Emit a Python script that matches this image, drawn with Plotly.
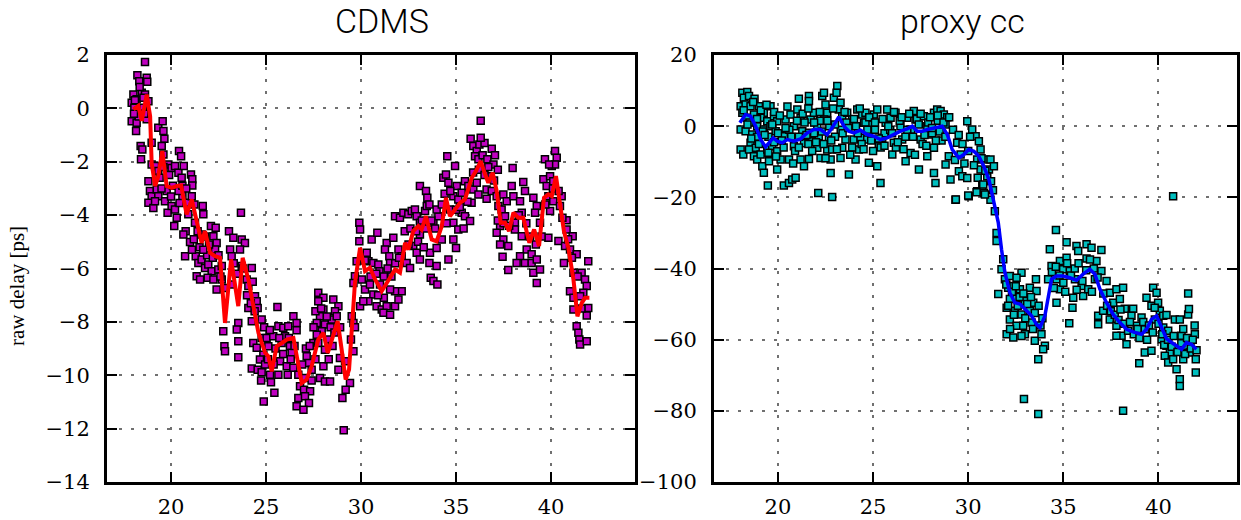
import plotly.graph_objects as go

# ---------------- data ----------------
cdms_points = [
    (18.63,1.74),(18.23,1.24),(18.33,1.02),(18.72,1.15),(18.75,1.0),(18.02,0.52),(18.19,0.34),(18.46,0.59),
    (18.63,0.52),(18.81,0.27),(17.93,0.21),(18.07,0.02),(18.28,-0.1),(18.54,0.02),(17.93,-0.48),(18.19,-0.54),
    (18.16,-0.85),(18.72,-0.41),(18.4,-1.41),(18.49,-1.54),(18.42,-1.91),(18.98,-1.29),(19.33,-0.73),(19.56,-0.48),
    (19.6,-0.85),(19.65,-1.14),(19.51,-1.41),(19.6,-1.73),(20.42,-1.6),(20.53,-1.79),(18.98,-2.1),(19.16,-2.16),
    (19.33,-2.35),(19.86,-2.1),(20.03,-2.23),(20.21,-2.16),(20.39,-2.41),(20.67,-2.16),(20.56,-2.6),(21.05,-2.48),
    (21.12,-2.66),(21.12,-2.89),(18.81,-2.73),(18.89,-3.1),(18.98,-3.29),(18.81,-3.54),(19.07,-3.73),(19.25,-3.04),
    (19.33,-3.29),(19.16,-3.48),(19.77,-3.1),(19.68,-3.48),(19.82,-3.91),(20.03,-3.66),(20.21,-3.79),(20.3,-4.1),
    (20.17,-4.41),(20.6,-3.29),(20.88,-3.54),(21.09,-3.29),(21.23,-3.6),(21.67,-3.66),(21.7,-3.97),(23.68,-3.91),
    (20.91,-3.97),(20.77,-4.6),(20.65,-4.73),(21.0,-5.01),(21.26,-4.29),(21.4,-4.6),(21.61,-4.73),(22.1,-4.41),
    (22.35,-4.47),(22.23,-4.79),(22.4,-5.04),(22.32,-5.29),(20.74,-5.54),(21.3,-5.54),(21.44,-5.79),(21.61,-5.66),
    (21.79,-5.98),(21.96,-5.85),(22.14,-6.1),(21.35,-6.29),(21.53,-6.41),(21.93,-6.35),(22.23,-6.41),(22.49,-6.04),
    (22.67,-5.91),(23.05,-4.6),(23.28,-4.85),(23.11,-5.29),(23.19,-5.54),(23.72,-4.91),(23.89,-5.04),(23.63,-5.29),
    (23.72,-5.91),(24.25,-5.98),(22.67,-6.41),(22.81,-6.73),(22.4,-6.79),(23.19,-6.6),(23.98,-6.41),(24.07,-6.66),
    (24.42,-7.04),(24.51,-7.23),(24.56,-7.48),(24.07,-7.48),(25.6,-7.44),(22.75,-8.35),(22.81,-8.91),(22.84,-9.1),
    (23.54,-8.04),(23.46,-8.29),(23.54,-8.73),(23.54,-9.33),(24.25,-7.98),(24.77,-7.91),(24.33,-8.79),(24.51,-8.97),
    (24.77,-8.6),(25.03,-8.6),(25.12,-8.91),(24.86,-9.23),(24.68,-9.41),(24.25,-9.75),(24.56,-9.79),(24.77,-9.89),
    (24.95,-9.6),(25.21,-9.98),(24.74,-10.2),(25.26,-10.26),(25.44,-10.66),(24.88,-10.98),(25.38,-8.54),(25.65,-8.16),
    (25.91,-8.22),(26.17,-8.16),(26.44,-7.79),(26.61,-8.04),(26.61,-8.31),(26.0,-8.54),(25.82,-8.79),(26.26,-8.91),
    (26.35,-9.16),(25.74,-9.48),(26.09,-9.66),(25.65,-9.98),(26.14,-9.98),(26.44,-9.72),(26.7,-9.98),(27.14,-9.29),
    (27.23,-9.54),(27.4,-9.79),(27.05,-10.1),(26.79,-10.41),(27.0,-10.54),(27.32,-10.6),(26.7,-10.85),(27.05,-10.79),
    (27.26,-11.04),(26.61,-11.16),(26.97,-11.29),(27.75,-6.91),(28.02,-7.1),(27.75,-7.23),(28.02,-7.54),(27.84,-7.79),
    (27.67,-8.04),(28.1,-8.1),(27.93,-8.35),(27.67,-8.48),(27.49,-8.79),(27.75,-8.79),(28.54,-7.16),(28.81,-7.41),
    (28.63,-7.6),(28.46,-7.91),(28.72,-7.79),(28.28,-8.66),(28.1,-9.04),(28.02,-9.66),(27.84,-10.1),(28.1,-10.23),
    (28.37,-10.23),(28.81,-9.79),(28.89,-9.35),(29.16,-9.48),(29.42,-10.29),(29.19,-10.54),(29.02,-10.85),(29.09,-12.06),
    (29.51,-7.79),(29.6,-8.04),(29.47,-8.66),(29.6,-9.1),(29.95,-7.41),(29.68,-8.2),
    (29.91,-4.29),(29.95,-4.54),(29.91,-4.98),(30.56,-4.91),(30.86,-4.66),(29.77,-5.73),(29.68,-6.29),(29.6,-6.54),
    (30.04,-6.41),(30.3,-5.41),(30.39,-5.73),(30.65,-5.79),(30.91,-5.85),(30.97,-6.1),(30.21,-6.79),(30.47,-6.6),
    (30.65,-6.97),(30.39,-7.23),(30.12,-7.23),(30.82,-7.41),(31.09,-7.54),(31.35,-7.41),(31.18,-7.66),(31.53,-7.73),
    (31.79,-7.41),(31.97,-7.16),(32.14,-6.85),(31.79,-6.85),(31.53,-6.79),(31.35,-5.04),(31.26,-5.29),(31.49,-5.54),
    (31.7,-4.85),(31.53,-5.79),(31.79,-4.04),(32.05,-4.1),(32.23,-3.91),(31.97,-5.29),(32.14,-5.54),(32.4,-5.79),
    (32.58,-5.98),(32.49,-3.97),(32.67,-3.85),(32.84,-3.79),(32.93,-4.04),(33.1,-4.29),(33.37,-3.85),(33.46,-3.66),
    (33.1,-2.91),(33.42,-3.1),(33.49,-3.35),(33.6,-3.6),(33.1,-4.73),(32.75,-5.16),(32.93,-5.41),(33.1,-5.66),
    (33.6,-5.79),(33.98,-5.91),(33.67,-6.35),(33.81,-6.47),(34.02,-6.6),(33.63,-5.41),(33.98,-5.23),(34.25,-4.91),
    (33.81,-4.29),(34.07,-4.04),(33.98,-3.79),(34.25,-3.6),(34.33,-2.6),(34.47,-2.48),(34.6,-2.79),(34.54,-1.79),
    (34.95,-2.16),(35.04,-2.91),(34.86,-3.29),(35.12,-3.41),(34.68,-3.79),(34.86,-4.29),(35.12,-4.54),(34.86,-4.91),
    (35.0,-5.23),(34.6,-5.66),(35.3,-3.91),(35.47,-4.04),(35.74,-4.22),(35.3,-3.16),(35.47,-2.73),(35.65,-2.91),
    (35.82,-3.54),(35.91,-3.04),(36.09,-2.79),(36.18,-3.23),(35.77,-1.14),(35.91,-1.41),(36.09,-1.6),(36.23,-1.35),
    (36.0,-1.79),(36.18,-1.91),(36.3,-0.46),(36.4,-1.76),(36.65,-1.91),(36.88,-1.51),(37.05,-1.76),(36.97,-2.1),
    (36.79,-2.54),(36.61,-3.04),(36.88,-3.1),(36.61,-3.39),(37.14,-3.29),(37.49,-3.23),(37.23,-3.66),(37.67,-3.48),
    (37.4,-3.79),(37.58,-4.04),(37.98,-2.23),(37.93,-2.91),(38.02,-3.29),(38.37,-3.48),(38.54,-2.76),(38.63,-3.1),
    (38.46,-3.91),(38.1,-4.29),(37.32,-4.41),(37.14,-4.66),(37.49,-4.91),(37.32,-5.1),(37.75,-5.16),(37.45,-5.56),
    (38.1,-4.54),(38.46,-4.79),(38.72,-5.29),(38.37,-5.54),(38.63,-5.79),(38.98,-5.47),(38.98,-5.79),(39.25,-5.66),
    (37.75,-6.06),(38.19,-5.79),(39.07,-6.16),(39.42,-6.04),(39.25,-6.54),(39.07,-3.35),(39.25,-3.66),(39.16,-3.91),
    (39.42,-4.29),(39.6,-2.66),(39.77,-2.91),(39.68,-1.91),(40.04,-2.16),(40.21,-1.6),(40.3,-1.85),(40.21,-2.1),
    (39.95,-2.54),(40.12,-2.73),(39.86,-3.29),(40.12,-3.48),(40.56,-3.29),(40.47,-3.66),(39.95,-3.85),(39.86,-4.85),
    (40.39,-4.97),(40.82,-4.19),(40.82,-4.54),(41.14,-4.79),(40.74,-5.16),(41.0,-5.29),(41.35,-5.47),(40.68,-5.79),
    (41.18,-6.16),(41.61,-6.16),(41.96,-5.73),(41.0,-6.85),(41.18,-7.1),(41.79,-6.41),(41.88,-6.66),(41.7,-6.91),
    (41.53,-7.04),(41.18,-7.54),(41.96,-7.48),(41.88,-7.76),(41.35,-8.16),(41.44,-8.41),(41.49,-8.66),(41.53,-8.85),
    (41.88,-8.73),
    # denser parts of the cloud
    (18.1,0.3),(18.35,0.8),(18.55,0.4),(18.3,-0.3),(18.6,-0.2),(18.05,-0.2),
    (19.4,-2.6),(19.5,-3.0),(19.9,-2.5),(20.1,-2.9),(20.4,-3.1),(20.6,-2.9),(20.8,-3.0),(19.6,-2.2),(20.0,-3.3),(20.45,-3.55),
    (21.2,-4.9),(21.5,-5.2),(21.8,-4.8),(22.0,-5.1),(21.9,-5.5),(22.2,-5.6),(21.7,-5.3),(22.5,-5.5),(21.1,-5.3),(22.6,-6.3),
    (23.3,-5.8),(23.5,-6.2),(23.8,-6.0),(24.0,-7.0),(24.2,-7.3),(24.4,-7.6),(24.3,-6.5),
    (24.9,-8.2),(25.2,-8.3),(25.5,-9.0),(25.7,-8.6),(25.9,-9.2),(26.2,-8.6),(26.5,-8.9),(25.1,-9.4),(25.4,-9.6),(26.3,-9.4),
    (26.9,-9.6),(27.1,-9.0),(27.3,-8.9),(27.5,-8.2),(27.6,-7.6),(27.9,-7.5),(28.2,-7.8),(28.4,-8.2),(28.6,-8.4),(28.9,-8.2),
    (28.3,-9.4),(28.5,-8.9),(27.4,-10.2),(27.6,-9.4),
    (30.2,-5.7),(30.5,-6.3),(30.8,-6.2),(31.0,-6.6),(31.2,-6.3),(31.4,-6.0),(31.6,-6.3),(31.8,-5.8),(32.0,-5.6),(31.2,-7.1),(30.9,-7.0),
    (32.3,-4.6),(32.6,-4.5),(32.9,-4.6),(33.2,-4.2),(33.4,-4.5),(33.7,-4.2),(32.5,-5.1),(33.0,-5.0),(33.3,-5.2),(33.9,-4.5),
    (34.4,-3.2),(34.7,-3.1),(35.0,-3.8),(35.2,-3.7),(35.6,-3.5),(35.9,-2.4),(35.4,-4.5),(34.5,-4.3),
    (36.2,-2.3),(36.5,-2.5),(36.7,-2.2),(37.0,-2.7),(37.2,-2.3),(36.5,-1.3),(36.3,-1.1),(37.5,-4.3),(37.8,-4.4),(37.2,-4.2),
    (38.3,-4.0),(38.7,-4.3),(38.9,-4.8),(39.2,-5.1),(39.5,-4.8),(39.7,-3.6),(39.9,-2.1),(40.1,-3.0),(40.4,-3.1),(40.6,-4.1),
    (40.9,-4.9),(41.1,-5.6),(41.4,-6.3),(41.6,-7.5),
]

cdms_fit_x = [18.02,18.28,18.46,18.72,18.9,18.98,19.16,19.33,19.54,19.77,20.04,20.3,20.53,20.82,21.09,21.35,
              21.61,21.79,22.05,22.32,22.58,22.84,23.16,23.54,23.77,24.07,24.33,24.6,24.95,25.12,25.3,25.56,
              25.83,26.09,26.44,26.88,27.14,27.4,27.75,28.02,28.25,28.54,28.77,28.98,29.19,29.37,29.54,29.68,
              29.95,30.21,30.47,30.74,31.09,31.44,31.79,32.05,32.32,32.49,32.75,33.02,33.19,33.42,33.72,33.98,
              34.25,34.47,34.68,34.95,35.21,35.47,35.83,36.05,36.3,36.53,36.7,36.93,37.14,37.35,37.58,37.79,
              38.02,38.28,38.54,38.86,39.11,39.37,39.63,39.86,40.04,40.26,40.47,40.68,40.91,41.18,41.39,41.62,
              41.79,42.02]
cdms_fit_y = [-0.04,0.09,-0.47,0.52,-0.29,-2.04,-2.91,-2.54,-1.6,-2.91,-2.98,-2.91,-2.89,-3.97,-3.41,-4.29,
              -5.04,-4.6,-5.41,-5.54,-5.6,-8.04,-5.66,-7.41,-5.6,-6.41,-7.41,-8.41,-9.16,-9.29,-9.85,-8.91,
              -8.79,-8.66,-8.6,-10.29,-10.16,-9.66,-8.66,-8.41,-9.16,-8.47,-7.97,-9.04,-10.16,-9.79,-8.16,-6.54,
              -5.22,-6.1,-5.97,-6.41,-6.85,-6.41,-6.04,-6.16,-5.04,-5.29,-4.6,-4.41,-4.54,-4.04,-4.91,-4.98,
              -4.41,-3.35,-4.04,-3.79,-3.54,-3.41,-2.6,-2.35,-1.98,-2.47,-2.79,-2.41,-3.1,-4.29,-4.29,-4.6,
              -3.91,-4.1,-4.1,-5.04,-4.54,-5.16,-3.35,-3.22,-3.29,-2.54,-3.54,-4.6,-5.22,-6.41,-7.79,-7.29,
              -7.1,-7.1]

proxy_points = [
    (18.13,9.39),(18.39,9.58),(18.21,7.98),(18.48,8.45),(18.77,7.7),(18.04,5.63),(18.3,6.1),(18.56,5.63),
    (19.0,5.63),(19.26,3.76),(19.61,5.63),(18.13,3.76),(18.39,2.35),(18.74,3.29),(19.09,2.35),(19.44,1.41),
    (19.79,2.82),(19.96,1.41),(18.04,-0.94),(18.3,-1.41),(18.65,-2.35),(18.91,0.0),(19.26,-0.94),(19.61,0.0),
    (19.88,-1.41),(18.04,-6.57),(18.18,-7.98),(18.56,-4.69),(18.83,-6.1),(18.48,-6.57),(18.74,-8.45),(18.91,-9.39),
    (19.09,-7.98),(19.18,-11.27),(19.26,-13.1),(19.53,-9.86),(19.44,-6.57),(19.7,-5.63),(19.96,-7.04),(19.96,-12.2),
    (19.47,-16.7),(20.14,-9.39),(20.31,-2.82),(20.31,-16.7),(20.58,-15.96),(20.75,-15.0),(20.93,-14.5),(20.58,-9.39),
    (20.4,1.88),(20.66,3.29),(21.02,4.69),(21.1,7.7),(20.84,0.0),(20.84,-5.63),(21.19,-9.39),(21.37,-11.27),
    (21.19,2.35),(21.28,-1.41),(21.37,-4.8),(21.63,8.45),(21.63,7.04),(21.72,1.88),(21.63,-1.88),(21.8,-4.23),
    (21.63,-9.2),(21.89,3.76),(22.07,0.0),(22.15,-2.82),(22.07,-6.1),(22.24,-8.92),(22.12,-18.78),(22.33,8.45),
    (22.42,9.39),(22.5,6.1),(22.59,3.76),(22.42,1.88),(22.68,-3.76),(22.59,-6.57),(22.85,-6.57),(22.77,-9.39),
    (22.77,-13.15),(22.85,-19.9),(22.94,7.98),(23.12,11.27),(23.08,9.39),(23.29,6.57),(23.2,4.69),(23.38,2.82),
    (23.55,-3.76),(23.38,-6.1),(23.29,-8.92),(23.64,3.76),(23.73,-13.6),(23.9,1.88),(23.99,-3.76),(24.08,-9.39),
    (24.17,4.69),(24.43,3.29),(24.52,0.94),(24.6,3.76),(24.34,-3.29),(24.25,-6.57),(24.69,-3.76),(24.78,-10.3),
    (24.87,0.47),(25.04,3.29),(25.22,4.69),(25.22,-11.27),(25.39,-15.96),(25.3,-5.63),(25.48,-3.29),(25.66,0.94),
    (25.74,4.69),(25.92,2.35),(26.01,-7.98),(26.09,-4.69),(26.18,3.76),(26.44,0.0),(26.53,-3.76),(26.71,-9.86),
    (26.97,-7.51),(26.79,2.35),(27.14,4.23),(27.23,1.88),(27.41,-12.2),(27.5,-3.76),(27.67,2.82),(27.85,0.0),
    (27.85,-8.45),(28.02,-2.35),(28.2,3.76),(28.2,-6.1),(28.2,-13.15),(28.28,-15.96),(28.37,4.69),(28.55,4.23),
    (28.72,3.29),(28.81,0.47),(28.81,-10.8),(28.98,-8.45),(29.07,-15.0),(29.33,-20.7),(29.42,-4.69),(29.6,-7.98),
    (29.51,-12.7),(29.69,-14.08),(29.95,1.41),(30.21,-0.94),(29.95,-14.55),(30.03,-19.7),(30.39,-2.82),(30.56,-4.23),
    (30.65,-6.57),(30.47,-9.39),(30.65,-12.2),(30.47,-18.3),(30.74,-16.9),(30.91,-9.39),(31.17,-9.39),(31.09,-12.2),
    (31.35,-11.27),(31.0,-14.08),(30.82,-18.78),(31.17,-20.66),
    (18.5,1.0),(18.9,-3.0),(19.2,-1.5),(19.5,-3.0),(19.8,-4.5),(20.0,-2.0),(20.3,-6.0),(20.6,-1.0),(20.9,-7.0),
    (21.1,-3.0),(21.4,1.0),(21.6,-5.0),(21.9,-2.0),(22.2,1.5),(22.4,-5.0),(22.7,0.0),(23.0,-3.0),(23.3,-1.0),
    (23.6,1.0),(23.9,-6.0),(24.1,0.0),(24.4,-5.0),(24.6,1.0),(24.9,-4.0),(25.1,-1.0),(25.4,-6.0),(25.6,-2.0),
    (25.9,-1.0),(26.2,-6.0),(26.4,1.5),(26.7,-3.0),(27.0,-1.0),(27.3,2.0),(27.6,-5.0),(27.9,1.0),(28.1,-2.0),
    (28.4,1.5),(28.6,-4.0),(28.9,2.5),
    (18.2,4.5),(18.4,0.5),(18.6,-3.5),(18.7,6.8),(18.9,2.0),(19.0,-5.0),(19.1,4.5),(19.3,-2.5),(19.4,6.0),
    (19.5,-7.5),(19.7,0.5),(19.8,4.0),(19.9,-8.5),(20.1,3.0),(20.2,-4.0),(20.4,-0.5),(20.5,5.5),(20.7,-3.0),
    (20.8,-10.5),(21.0,1.5),(21.1,-6.0),(21.3,3.5),(21.5,-2.5),(21.6,5.0),(21.8,-7.0),(21.9,1.0),(22.0,-4.5),
    (22.2,4.0),(22.3,-1.5),(22.5,-9.0),(22.6,1.5),(22.8,-4.0),(22.9,5.0),(23.0,0.5),(23.1,-6.5),(23.4,-2.0),
    (23.5,4.0),(23.7,-0.5),(23.8,-8.0),(24.0,2.0),(24.2,-2.0),(24.3,5.0),(24.5,-6.5),(24.7,-1.0),(24.8,2.5),
    (25.0,-7.0),(25.1,1.0),(25.3,-3.5),(25.5,2.0),(25.6,-5.5),(25.8,0.0),(26.0,-2.0),(26.1,4.0),(26.3,-4.5),
    (26.5,2.5),(26.6,-6.5),(26.8,-1.0),(26.9,3.5),(27.1,-3.0),(27.2,-8.0),(27.4,0.5),(27.5,3.5),(27.7,-2.5),
    (27.8,-5.5),(28.0,2.5),(28.1,-0.5),(28.3,-4.0),(28.4,3.0),(28.5,-1.5),(28.7,1.0),(28.8,-3.0),(29.0,2.5),
    (29.2,-1.0),(29.3,-9.5),(29.5,-2.5),(29.7,-5.0),(29.8,-10.5),(30.0,-7.0),(30.1,-3.0),(30.3,-11.0),
    (30.5,-14.5),(30.7,-9.0),(30.9,-12.5),(31.2,-15.5),(31.3,-18.0),
    (29.35,-20.6),(30.0,-19.5),(30.44,-18.6),(30.79,-16.4),(30.88,-19.2),(31.4,-23.9),(31.49,-30.0),(31.49,-32.3),
    (40.77,-19.7),(34.61,-29.2),(35.17,-32.6),(34.29,-34.6),(34.38,-39.3),(35.69,-33.7),(36.22,-33.2),(36.48,-34.2),
    (37.0,-34.8),(35.78,-35.1),(36.22,-37.2),(34.82,-37.9),(35.17,-37.0),(36.74,-37.9),(31.84,-37.4),(31.75,-40.2),
    (31.93,-43.0),(32.19,-42.1),(32.8,-41.2),(32.54,-42.6),(33.56,-43.0),(31.58,-47.2),(32.1,-45.4),(32.37,-44.9),
    (32.72,-45.8),(33.24,-45.4),(33.59,-46.3),(32.19,-48.6),(32.54,-48.2),(32.98,-49.1),(33.42,-49.6),(32.02,-51.0),
    (32.45,-51.9),(32.8,-52.9),(33.24,-51.9),(32.19,-54.3),(32.54,-56.1),(32.89,-56.1),(33.33,-55.2),(32.02,-58.5),
    (32.37,-59.4),(32.98,-58.5),(33.5,-60.3),(33.85,-58.5),(34.03,-61.7),(33.94,-62.7),(33.68,-65.5),(32.93,-76.7),
    (33.68,-80.9),(38.14,-80.0),(34.2,-43.0),(34.64,-43.0),(34.99,-40.2),(35.34,-40.7),(35.61,-43.0),(35.96,-44.9),
    (35.52,-48.2),(36.04,-47.7),(34.82,-45.8),(34.64,-49.6),(35.48,-51.0),(35.31,-55.4),(36.31,-45.8),(36.66,-43.0),
    (37.0,-40.7),(37.27,-43.5),(36.83,-53.3),(37.09,-51.9),(36.83,-55.7),(37.44,-46.8),(37.79,-45.8),(38.14,-45.4),
    (37.62,-49.6),(37.97,-48.6),(38.23,-51.3),(38.67,-51.3),(37.44,-54.3),(37.79,-56.1),(38.06,-58.9),(37.79,-58.9),
    (38.32,-61.3),(38.58,-53.3),(38.85,-56.1),(39.11,-53.8),(39.28,-57.1),(39.28,-63.6),(39.63,-63.1),(38.99,-66.6),
    (39.37,-48.2),(39.72,-45.4),(39.9,-46.8),(39.63,-50.5),(39.98,-49.6),(40.07,-51.9),(39.81,-54.3),(40.25,-53.3),
    (40.42,-53.1),(40.25,-56.6),(40.51,-57.5),(40.86,-54.3),(41.12,-54.3),(41.56,-52.9),(41.56,-47.0),(41.6,-51.4),
    (40.16,-59.9),(40.42,-61.7),(40.6,-63.6),(40.33,-64.5),(40.51,-66.4),(40.77,-65.5),(40.95,-68.3),(41.12,-71.1),
    (41.12,-73.0),(41.21,-58.9),(41.47,-61.7),(41.65,-63.6),(41.91,-58.5),(41.96,-65.5),(41.96,-69.2),(41.3,-65.5),
    (32.0,-44.5),(32.3,-46.5),(32.5,-45.0),(32.7,-48.0),(32.9,-47.0),(33.1,-50.0),(33.3,-48.0),(33.5,-52.5),
    (33.7,-50.5),(33.9,-54.0),(32.1,-50.5),(32.4,-53.0),(32.6,-50.5),(33.0,-54.0),(33.4,-57.0),(33.8,-56.0),
    (32.2,-57.0),(32.8,-59.0),
    (34.4,-41.0),(34.6,-39.5),(34.8,-42.0),(35.0,-44.0),(35.2,-38.5),(35.4,-42.0),(35.6,-40.0),(35.8,-38.5),
    (36.0,-43.5),(36.2,-40.5),(36.4,-37.5),(36.6,-40.0),(36.8,-42.5),(35.1,-46.5),(35.7,-46.0),(36.5,-46.5),
    (34.5,-45.5),
    (37.1,-47.0),(37.3,-50.5),(37.5,-52.0),(37.7,-53.0),(37.9,-54.5),(38.0,-51.5),(38.2,-55.5),(38.4,-57.5),
    (38.5,-55.0),(38.7,-58.5),(38.9,-57.0),(39.0,-59.5),(39.2,-55.0),(39.4,-60.0),(39.5,-56.0),(39.7,-58.0),
    (39.8,-51.0),(40.0,-55.5),(40.2,-58.5),(40.3,-61.5),(40.5,-60.0),(40.7,-62.0),(40.8,-59.0),(41.0,-63.5),
    (41.2,-61.0),(41.4,-64.0),(41.5,-59.5),(41.7,-62.5),(41.8,-60.0),(42.0,-63.0),(41.9,-56.0),(41.3,-57.0),
]

proxy_fit_x = [18.0,18.3,18.56,18.83,19.09,19.35,19.53,19.75,19.96,20.23,20.49,20.84,21.19,21.54,21.89,22.24,
               22.59,22.85,23.2,23.47,23.73,23.99,24.34,24.69,25.04,25.39,25.74,26.09,26.44,26.79,27.06,27.32,
               27.58,27.85,28.2,28.63,28.9,29.16,29.51,29.77,30.03,30.3,30.56,30.82,31.09,31.31,31.58,31.75,
               31.93,32.19,32.45,32.72,32.98,33.33,33.59,33.77,34.03,34.2,34.38,34.64,34.99,35.34,35.69,36.04,
               36.39,36.66,36.92,37.27,37.62,37.97,38.32,38.67,39.11,39.37,39.63,39.9,40.16,40.42,40.69,40.95,
               41.21,41.47,41.73,41.99]
proxy_fit_y = [0.94,3.29,2.82,0.0,-3.76,-5.82,-4.69,-3.29,-4.23,-4.69,-3.76,-4.23,-3.57,-1.88,-0.94,-0.94,
               -2.35,-0.47,2.63,0.0,-1.41,-1.88,-1.13,-2.35,-2.82,-3.76,-3.29,-2.35,-1.41,-0.75,0.0,-1.41,
               -1.41,-0.94,-0.47,0.0,-2.35,-6.57,-8.92,-7.98,-6.57,-7.04,-8.45,-11.27,-15.0,-20.6,-27.1,-34.6,
               -41.2,-46.8,-49.6,-50.0,-51.4,-53.3,-55.7,-56.6,-53.3,-47.7,-43.0,-42.1,-42.1,-42.6,-43.3,-41.6,
               -40.2,-41.6,-45.8,-49.6,-52.9,-55.2,-57.1,-57.8,-58.5,-57.1,-54.3,-53.3,-56.6,-59.7,-60.8,-61.7,
               -62.7,-60.8,-61.3,-62.7]

x_ticks = [20, 25, 30, 35, 40]
cdms_y_ticks = [-14, -12, -10, -8, -6, -4, -2, 0, 2]
proxy_y_ticks = [-100, -80, -60, -40, -20, 0, 20]
titles = ["CDMS", "proxy cc"]
y_label = "raw delay [ps]"

# ---------------- figure ----------------
W, H = 1241, 520
SERIF = "DejaVu Serif"
fig = go.Figure()

fig.add_trace(go.Scatter(
    x=[p[0] for p in cdms_points], y=[p[1] for p in cdms_points], mode="markers",
    marker=dict(symbol="square", size=7, color="#bf00bf", line=dict(color="black", width=1.5)),
    xaxis="x", yaxis="y", showlegend=False, hoverinfo="skip"))
fig.add_trace(go.Scatter(
    x=cdms_fit_x, y=cdms_fit_y, mode="lines", line=dict(color="#ff0000", width=4),
    xaxis="x", yaxis="y", showlegend=False))
fig.add_trace(go.Scatter(
    x=[p[0] for p in proxy_points], y=[p[1] for p in proxy_points], mode="markers",
    marker=dict(symbol="square", size=7, color="#00bfbf", line=dict(color="black", width=1.5)),
    xaxis="x2", yaxis="y2", showlegend=False, hoverinfo="skip"))
fig.add_trace(go.Scatter(
    x=proxy_fit_x, y=proxy_fit_y, mode="lines", line=dict(color="#0000ff", width=3.5),
    xaxis="x2", yaxis="y2", showlegend=False))

tick_font = dict(family=SERIF, size=21, color="black")
common = dict(showline=True, linecolor="black", linewidth=3, mirror="ticks",
              ticks="inside", ticklen=10, tickwidth=2, tickcolor="black",
              showgrid=True, gridcolor="#707070", gridwidth=1.5, griddash="3px,9px",
              zeroline=False, tickfont=tick_font, automargin=False, fixedrange=True)

ydom = [38 / H, 465 / H]
fig.update_layout(
    template="none",
    font=dict(family=SERIF, size=21, color="black"),
    width=W, height=H,
    margin=dict(l=0, r=0, t=0, b=0),
    paper_bgcolor="white", plot_bgcolor="white",
    showlegend=False,
    xaxis=dict(domain=[107 / W, 635 / W], range=[16.63, 44.42], tickvals=x_ticks,
               ticklabelstandoff=4, anchor="y", **common),
    yaxis=dict(domain=ydom, range=[-14, 2], tickvals=cdms_y_ticks,
               ticklabelstandoff=10, anchor="x", **common),
    xaxis2=dict(domain=[714 / W, 1236.5 / W], range=[16.64, 44.1], tickvals=x_ticks,
                ticklabelstandoff=4, anchor="y2", **common),
    yaxis2=dict(domain=ydom, range=[-100, 20], tickvals=proxy_y_ticks,
                ticklabelstandoff=10, anchor="x2", **common),
    annotations=[
        dict(text=titles[0], x=382 / W, y=1 - 21 / H, xref="paper", yref="paper",
             xanchor="center", yanchor="middle", showarrow=False,
             font=dict(family="Roboto", size=34, color="black", weight=300)),
        dict(text=titles[1], x=962 / W, y=1 - 21 / H, xref="paper", yref="paper",
             xanchor="center", yanchor="middle", showarrow=False,
             font=dict(family="Roboto", size=34, color="black", weight=300)),
        dict(text=y_label, x=17 / W, y=1 - 286 / H, xref="paper", yref="paper",
             xanchor="center", yanchor="middle", showarrow=False, textangle=-90,
             font=dict(family="Liberation Serif", size=21, color="black")),
    ],
)

fig.write_html("out.html")
